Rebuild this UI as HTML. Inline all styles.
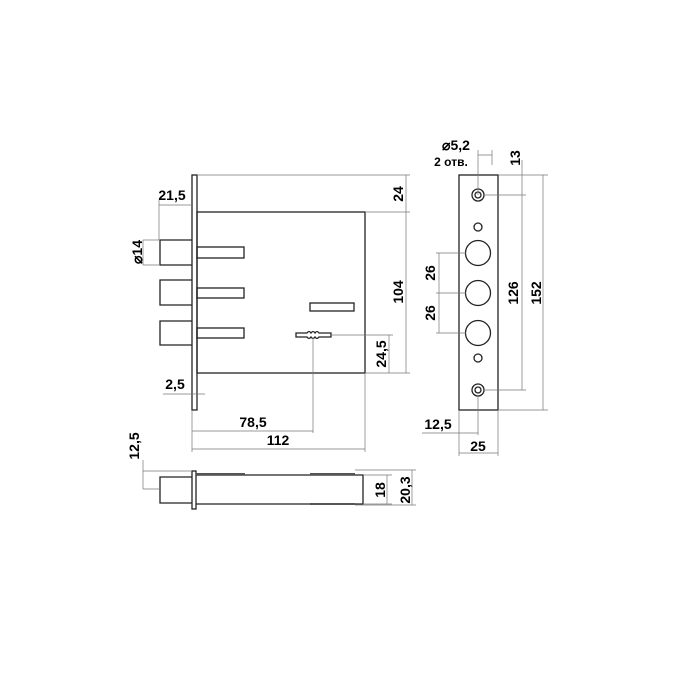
<!DOCTYPE html>
<html><head><style>body{margin:0;background:#fff}svg{display:block}</style></head><body>
<svg width="700" height="700" viewBox="0 0 700 700" xmlns="http://www.w3.org/2000/svg" font-family="Liberation Sans, sans-serif" font-weight="bold" font-size="14" fill="#000">
<g fill="none" stroke="#222" stroke-width="1.3">
<rect x="192" y="175" width="5" height="235"/>
<rect x="197" y="212" width="168" height="161"/>
<path d="M192 240H160V265H192M192 280H160V305H192M192 321H160V345H192"/>
<rect x="197" y="247" width="47" height="11"/>
<rect x="197" y="288" width="47" height="10"/>
<rect x="197" y="328" width="47" height="10"/>
<rect x="310" y="303" width="44" height="8"/>
<path d="M296 333H307Q309 330 311 333Q313 330 315 333Q317 330 319 333H331V337H319Q317 340 315 337Q313 340 311 337Q309 340 307 337H296Z"/>
<rect x="459" y="175" width="39" height="235"/>
<circle cx="478" cy="195" r="6"/><circle cx="478" cy="195" r="3"/>
<circle cx="478" cy="390" r="6"/><circle cx="478" cy="390" r="3"/>
<circle cx="478" cy="227" r="4"/><circle cx="478" cy="358" r="4"/>
<circle cx="478" cy="253" r="12.5"/><circle cx="478" cy="293" r="12.5"/><circle cx="478" cy="333" r="12.5"/>
<rect x="192" y="471" width="4" height="38"/>
<path d="M192 477H160V503H192"/>
<path d="M196 475H363V504H196"/>
</g>
<g stroke="#555" stroke-width="2"><path d="M196 474H245M310 474H355M310 504H355"/></g>
<g fill="none" stroke="#777" stroke-width="0.7">
<path d="M197 175H410M365 212H410M365 373H410M406 175V373M331 335H393M389 335V373"/>
<path d="M159 205H192M159 200V240M143 240H160M143 265H160M143 240V265"/>
<path d="M163 394H205M192 410V452M313 338V433M365 373V452M192 431H313M192 449H365"/>
<path d="M478 150V195M478 155H492M492 150V165M498 175H548M484 195H526M484 390H526M498 410H548M522 160V390M543 175V410"/>
<path d="M466 253H436M466 293H436M466 333H436M439 253V333"/>
<path d="M478 396V435M422 433H478M459 410V456M498 410V456M459 453H498"/>
<path d="M143 471H192M143 489H159M143 460V489M363 475H392M363 504H392M355 470H416M355 505H416M387 475V504M412 470V505"/>
</g>
<text x="172" y="200" text-anchor="middle">21,5</text>
<text transform="translate(142,252) rotate(-90)" text-anchor="middle">⌀14</text>
<text x="175" y="389" text-anchor="middle">2,5</text>
<text x="253" y="427" text-anchor="middle">78,5</text>
<text x="278" y="445" text-anchor="middle">112</text>
<text transform="translate(403,194) rotate(-90)" text-anchor="middle">24</text>
<text transform="translate(403,292) rotate(-90)" text-anchor="middle">104</text>
<text transform="translate(386,354) rotate(-90)" text-anchor="middle">24,5</text>
<text x="456" y="150" text-anchor="middle">⌀5,2</text>
<text x="451" y="166" text-anchor="middle" font-size="12">2 отв.</text>
<text transform="translate(520,158) rotate(-90)" text-anchor="middle">13</text>
<text transform="translate(518,293) rotate(-90)" text-anchor="middle">126</text>
<text transform="translate(541,293) rotate(-90)" text-anchor="middle">152</text>
<text transform="translate(435,273) rotate(-90)" text-anchor="middle">26</text>
<text transform="translate(435,313) rotate(-90)" text-anchor="middle">26</text>
<text x="438" y="429" text-anchor="middle">12,5</text>
<text x="478" y="451" text-anchor="middle">25</text>
<text transform="translate(139,446) rotate(-90)" text-anchor="middle">12,5</text>
<text transform="translate(385,490) rotate(-90)" text-anchor="middle">18</text>
<text transform="translate(410,490) rotate(-90)" text-anchor="middle">20,3</text>
</svg>
</body></html>
